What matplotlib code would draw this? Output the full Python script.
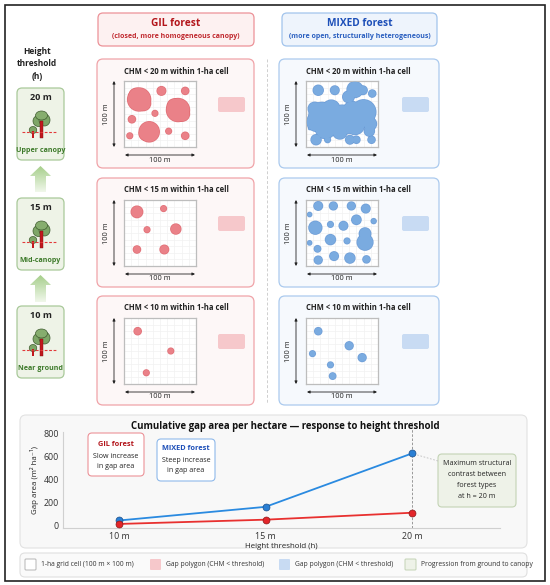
import matplotlib
matplotlib.use("Agg")
import numpy as np
import matplotlib.pyplot as plt
from matplotlib.patches import FancyBboxPatch, Ellipse, Rectangle, Polygon
from matplotlib.colors import LinearSegmentedColormap

plt.rcParams['font.family'] = ['Open Sans', 'DejaVu Sans']

# ---------------- DATA ----------------
heights = ["10 m", "15 m", "20 m"]
gil_area = [15, 52, 112]          # m2 ha-1
mixed_area = [45, 163, 625]
y_ticks = [0, 200, 400, 600, 800]

row_thresholds = [20, 15, 10]
row_labels = ["Upper canopy", "Mid-canopy", "Near ground"]

# gap polygons as (x m, y m from top edge, radius m) inside the 100 m x 100 m cell
gil_gaps_20 = [(21, 28, 16), (17, 22, 10), (27, 34, 10), (52, 15, 6), (85, 15, 5),
               (75, 44, 16), (70, 38, 10), (81, 50, 10), (43, 49, 4),
               (11, 58, 5), (35, 77, 14), (30, 80, 9), (62, 76, 4), (8, 83, 4), (85, 83, 5)]
gil_gaps_15 = [(18, 18, 8), (55, 13, 4), (32, 45, 4), (72, 44, 7), (18, 75, 5), (56, 75, 6)]
gil_gaps_10 = [(19, 20, 5), (65, 50, 4), (31, 83, 4)]

mixed_gaps_20 = [(17, 14, 7), (40, 14, 6), (68, 13, 11), (59, 24, 8), (79, 14, 6), (92, 19, 5),
                 (22, 52, 18), (50, 54, 16), (80, 47, 17), (27, 72, 14), (47, 77, 10),
                 (68, 67, 13), (89, 65, 9), (35, 42, 12), (64, 44, 12), (14, 62, 13),
                 (55, 66, 13), (38, 63, 14), (88, 76, 7), (12, 42, 9),
                 (14, 89, 7), (30, 89, 4), (61, 89, 6),
                 (70, 89, 5), (91, 89, 5), (5, 72, 1.5)]
mixed_gaps_15 = [(17, 9, 6), (38, 9, 5.5), (63, 9, 5.5), (83, 13, 6), (5, 22, 3), (13, 42, 9),
                 (34, 37, 4), (52, 39, 6), (70, 30, 6.5), (94, 32, 3.5), (82, 51, 8),
                 (82, 64, 11), (34, 60, 7), (57, 62, 4), (5, 65, 3), (16, 74, 4.5),
                 (39, 85, 6), (17, 91, 5.5), (61, 88, 7), (84, 90, 5)]
mixed_gaps_10 = [(17, 20, 5), (60, 42, 5.5), (9, 54, 4), (78, 60, 5.5), (34, 71, 4), (37, 88, 4.5)]

gil_gaps = [gil_gaps_20, gil_gaps_15, gil_gaps_10]
mixed_gaps = [mixed_gaps_20, mixed_gaps_15, mixed_gaps_10]

# ---------------- COLOURS ----------------
RED_TXT = '#b3151b'
BLUE_TXT = '#1d4fb8'
GIL_FILL, GIL_EDGE = '#ea8188', '#dc5a62'
MIX_FILL, MIX_EDGE = '#7aabe0', '#5b90d2'
GREEN_TXT = '#3d7a2a'

W, H = 550, 585
fig = plt.figure(figsize=(5.5, 5.85), dpi=100)
bg = fig.add_axes([0, 0, 1, 1])
bg.set_xlim(0, W)
bg.set_ylim(H, 0)
bg.axis('off')


def px_axes(x0, y0, x1, y1):
    return fig.add_axes([x0 / W, 1 - y1 / H, (x1 - x0) / W, (y1 - y0) / H])


def rbox(x0, y0, x1, y1, fc, ec, lw=0.8, r=5, z=1):
    p = FancyBboxPatch((x0, y0), x1 - x0, y1 - y0,
                       boxstyle=f"round,pad=0,rounding_size={r}",
                       fc=fc, ec=ec, lw=lw, zorder=z)
    bg.add_patch(p)
    return p


# outer frame
bg.add_patch(Rectangle((5, 5), 540, 576, fill=False, ec='#222222', lw=1.2))

# ---------------- COLUMN HEADERS ----------------
rbox(98, 13, 254, 46, '#fdf1f1', '#ec9298', lw=0.9, r=5)
bg.text(176, 24, "GIL forest", ha='center', va='center', fontsize=7.3,
        fontweight='bold', color=RED_TXT)
bg.text(176, 37, "(closed, more homogeneous canopy)", ha='center', va='center',
        fontsize=5.0, fontweight='bold', color='#c0282e')

rbox(282, 13, 437, 46, '#eef4fc', '#a2c4ec', lw=0.9, r=5)
bg.text(359.5, 24, "MIXED forest", ha='center', va='center', fontsize=7.3,
        fontweight='bold', color=BLUE_TXT)
bg.text(359.5, 37, "(more open, structurally heterogeneous)", ha='center', va='center',
        fontsize=5.0, fontweight='bold', color='#2a5fc0')

# dashed separator
bg.plot([267, 267], [59, 404], ls=(0, (3, 2)), color='#cfcfcf', lw=0.7)

# ---------------- PANELS ----------------
row_top = [59, 178, 296]
row_h = 109
cols = [
    dict(x0=97, x1=254, fc='#fdf7f7', ec='#f0a3a8', swatch='#f6c8cb',
         gaps=gil_gaps, fill=GIL_FILL, edge=GIL_EDGE, sw_x=121),
    dict(x0=279, x1=439, fc='#f6f9fd', ec='#abcaee', swatch='#c8dbf3',
         gaps=mixed_gaps, fill=MIX_FILL, edge=MIX_EDGE, sw_x=123),
]
CW, CH = 72, 66

for c in cols:
    for i, top in enumerate(row_top):
        rbox(c['x0'], top, c['x1'], top + row_h, c['fc'], c['ec'], lw=0.9, r=6)
        bg.text(c['x0'] + 79, top + 12, f"CHM < {row_thresholds[i]} m within 1-ha cell",
                ha='center', va='center', fontsize=5.5, fontweight='bold', color='#222222')
        # swatch
        rbox(c['x0'] + c['sw_x'], top + 38, c['x0'] + c['sw_x'] + 27, top + 53,
             c['swatch'], 'none', r=2)
        # cell
        x0 = c['x0'] + 27
        y0 = top + 22
        ax = px_axes(x0, y0, x0 + CW, y0 + CH)
        ax.set_xlim(0, 100)
        ax.set_ylim(100, 0)
        ax.set_xticks(np.arange(0, 101, 10))
        ax.set_yticks(np.arange(0, 101, 10))
        ax.tick_params(length=0, labelbottom=False, labelleft=False)
        ax.grid(True, color='#f1f1f1', lw=0.5)
        ax.set_axisbelow(True)
        for s in ax.spines.values():
            s.set_color('#bdbdbd')
            s.set_linewidth(0.9)
        for (gx, gy, gr) in c['gaps'][i]:
            ax.add_patch(Ellipse((gx, gy), 2 * gr, 2 * gr * CW / CH, fc=c['edge'],
                                 ec=c['edge'], lw=1.0, zorder=2, alpha=0.8))
        for (gx, gy, gr) in c['gaps'][i]:
            ax.add_patch(Ellipse((gx, gy), 2 * gr, 2 * gr * CW / CH, fc=c['fill'],
                                 ec='none', zorder=3))
        # dimension arrows
        arr = dict(arrowstyle='<|-|>', color='#222222', lw=0.6, mutation_scale=4,
                   shrinkA=0, shrinkB=0)
        bg.annotate('', xy=(x0 - 10, y0), xytext=(x0 - 10, y0 + CH), arrowprops=arr)
        bg.text(x0 - 17, y0 + CH / 2, "100 m", rotation=90, ha='center', va='center',
                fontsize=5.4, color='#222222')
        bg.annotate('', xy=(x0 + 1, y0 + CH + 8), xytext=(x0 + CW - 1, y0 + CH + 8),
                    arrowprops=arr)
        bg.text(x0 + CW / 2, y0 + CH + 13, "100 m", ha='center', va='center',
                fontsize=5.4, color='#222222')

# ---------------- LEFT COLUMN ----------------
bg.text(37, 64, "Height\nthreshold\n(h)", ha='center', va='center', fontsize=6.0,
        fontweight='bold', color='#222222', linespacing=1.55)

box_top = [88, 198, 306]
for i, top in enumerate(box_top):
    rbox(17, top, 64, top + 72, '#eef3e7', '#a9c99a', lw=0.9, r=5)
    bg.text(40.5, top + 10, f"{row_thresholds[i]} m", ha='center', va='center',
            fontsize=6.6, fontweight='bold', color='#222222')
    bg.text(40.5, top + 62, row_labels[i], ha='center', va='center',
            fontsize=5.1, fontweight='bold', color=GREEN_TXT)
    # tree icon
    bg.add_patch(Rectangle((39.8, top + 33), 3.0, 17, fc='#c2171d', ec='#7a1010',
                           lw=0.3, zorder=3))
    bg.add_patch(Ellipse((38.5, top + 33), 11, 11, fc='#7ea667', ec='#3f5c30', lw=0.5, zorder=2))
    bg.add_patch(Ellipse((44.5, top + 32), 11, 12, fc='#7ea667', ec='#3f5c30', lw=0.5, zorder=2))
    bg.add_patch(Ellipse((41.5, top + 27.5), 12, 9, fc='#86ad6e', ec='#3f5c30', lw=0.5, zorder=2))
    bg.add_patch(Rectangle((32.3, top + 43), 1.4, 7, fc='#c2171d', ec='none', zorder=3))
    bg.add_patch(Ellipse((33, top + 42), 7.5, 7, fc='#7ea667', ec='#3f5c30', lw=0.5, zorder=2))
    bg.plot([22, 56], [top + 44, top + 44], ls=(0, (2.5, 1.5)), color='#e23a3a', lw=0.8, zorder=4)

# gradient arrows between boxes
grad = LinearSegmentedColormap.from_list('g', ['#a7cf8c', '#f0f7ea'])
for tip, base in [(166, 192), (275, 302)]:
    pts = [(35, base), (35, tip + 10), (30, tip + 10), (40.5, tip), (51, tip + 10),
           (46, tip + 10), (46, base)]
    poly = Polygon(pts, closed=True, fc='none', ec='none')
    bg.add_patch(poly)
    im = bg.imshow(np.linspace(0, 1, 50).reshape(-1, 1), cmap=grad, aspect='auto',
                   extent=(30, 51, base, tip), zorder=2)
    im.set_clip_path(poly)
bg.set_xlim(0, W)
bg.set_ylim(H, 0)

# ---------------- LINE CHART PANEL ----------------
rbox(20, 415, 527, 548, '#f8f8f8', '#e2e2e2', lw=0.8, r=6)
bg.text(285, 426, "Cumulative gap area per hectare \u2014 response to height threshold",
        ha='center', va='center', fontsize=6.9, fontweight='bold', color='#111111')

ax = px_axes(63, 432, 500, 528)
ax.patch.set_alpha(0)
xpos = np.arange(len(heights))
ax.axvline(2, color='#8a8a8a', lw=0.6, ls=(0, (3, 2)), ymax=1.1, clip_on=False)
ax.plot(xpos, mixed_area, color='#2a8ae0', lw=1.3, marker='o', ms=5,
        mfc='#2a7fd4', mec='#1d4f88', mew=0.5, zorder=3)
ax.plot(xpos, gil_area, color='#e8302f', lw=1.3, marker='o', ms=5,
        mfc='#e3262a', mec='#8a1a1a', mew=0.5, zorder=3)
ax.set_xlim(-0.382, 2.60)
ax.set_ylim(-20, 810)
ax.set_yticks(y_ticks)
ax.set_xticks(xpos)
ax.set_xticklabels(heights)
ax.tick_params(axis='both', labelsize=6.4, colors='#333333', length=0, pad=3)
for s in ['top', 'right']:
    ax.spines[s].set_visible(False)
for s in ['left', 'bottom']:
    ax.spines[s].set_color('#d0d0d0')
    ax.spines[s].set_linewidth(0.8)
ax.set_xlabel("Height threshold (h)", fontsize=5.7, color='#222222', labelpad=1)
ax.set_ylabel("Gap area (m\u00b2 ha\u207b\u00b9)", fontsize=5.7, color='#222222', labelpad=3)

# inset notes
rbox(88, 433, 144, 476, '#ffffff', '#ec9298', lw=0.8, r=4)
bg.text(116, 444, "GIL forest", ha='center', va='center', fontsize=5.3,
        fontweight='bold', color=RED_TXT)
bg.text(116, 461, "Slow increase\nin gap area", ha='center', va='center', fontsize=5.1,
        color='#222222', linespacing=1.6)
rbox(157, 439, 215, 481, '#ffffff', '#8fb9ea', lw=0.8, r=4)
bg.text(186, 448, "MIXED forest", ha='center', va='center', fontsize=5.3,
        fontweight='bold', color=BLUE_TXT)
bg.text(186, 466, "Steep increase\nin gap area", ha='center', va='center', fontsize=5.1,
        color='#222222', linespacing=1.6)

rbox(438, 454, 516, 507, '#eef2e8', '#c3d3b5', lw=0.8, r=4)
bg.text(477, 480, "Maximum structural\ncontrast between\nforest types\nat h = 20 m",
        ha='center', va='center', fontsize=5.1, color='#222222', linespacing=1.75)
bg.plot([414, 438], [454, 461], ls=(0, (2, 2)), color='#bdbdbd', lw=0.6)

# ---------------- LEGEND ----------------
rbox(20, 553, 527, 577, '#fafafa', '#e0e0e0', lw=0.8, r=5)
legend_items = [
    (25, '#ffffff', '#b5b5b5', "1-ha grid cell (100 m \u00d7 100 m)"),
    (150, '#f6c8cb', 'none', "Gap polygon (CHM < threshold)"),
    (279, '#c8dbf3', 'none', "Gap polygon (CHM < threshold)"),
    (405, '#eef2e8', '#c3d3b5', "Progression from ground to canopy"),
]
for lx, fc, ec, lab in legend_items:
    rbox(lx, 559, lx + 11, 570, fc, ec, lw=0.7, r=1)
    bg.text(lx + 16, 565, lab, ha='left', va='center', fontsize=4.9, color='#333333')

fig.savefig("out.png", dpi=100)
